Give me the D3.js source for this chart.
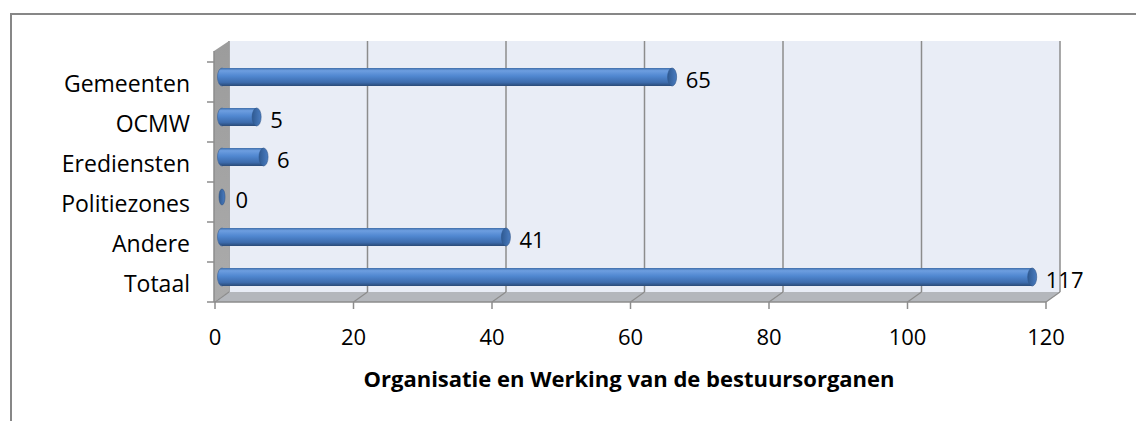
<!DOCTYPE html>
<html lang="nl">
<head>
<meta charset="utf-8">
<title>Organisatie en Werking van de bestuursorganen</title>
<script src="https://d3js.org/d3.v7.min.js"></script>
<style>
  body { margin: 0; background: #fff; }
  text { font-family: "Open Sans", sans-serif; fill: #000; }
</style>
</head>
<body>
<script>
// data
var categories = ["Gemeenten", "OCMW", "Erediensten", "Politiezones", "Andere", "Totaal"];
var values = [65, 5, 6, 0, 41, 117];
var xTicks = [0, 20, 40, 60, 80, 100, 120];
var axisTitle = "Organisatie en Werking van de bestuursorganen";

var W = 1136, H = 421;
var depthX = 14, depthY = 10;   // 3d offset of the back wall

var svg = d3.select("body").append("svg")
  .attr("width", W).attr("height", H);

// outer chart frame
svg.append("rect")
  .attr("x", 11).attr("y", 14)
  .attr("width", W + 20).attr("height", H + 20)
  .attr("fill", "none").attr("stroke", "#878787").attr("stroke-width", 2);

var x = d3.scaleLinear().domain([0, 120]).range([215, 1046]);
var y = d3.scaleBand().domain(categories).range([62, 302]);
var plotTop = 51, plotBottom = 302;

var defs = svg.append("defs");
var g1 = defs.append("linearGradient").attr("id", "barGrad")
  .attr("x1", 0).attr("y1", 0).attr("x2", 0).attr("y2", 1);
g1.append("stop").attr("offset", "0%").attr("stop-color", "#3f6ea9");
g1.append("stop").attr("offset", "15%").attr("stop-color", "#6d9ee0");
g1.append("stop").attr("offset", "45%").attr("stop-color", "#5087d0");
g1.append("stop").attr("offset", "80%").attr("stop-color", "#3d6cad");
g1.append("stop").attr("offset", "100%").attr("stop-color", "#2a4a77");

var g2 = defs.append("linearGradient").attr("id", "capGrad")
  .attr("x1", 0).attr("y1", 0).attr("x2", 1).attr("y2", 0);
g2.append("stop").attr("offset", "0%").attr("stop-color", "#2f5a92");
g2.append("stop").attr("offset", "100%").attr("stop-color", "#4a7cc0");

var g3 = defs.append("linearGradient").attr("id", "wallGrad")
  .attr("x1", 0).attr("y1", 0).attr("x2", 0).attr("y2", 1);
g3.append("stop").attr("offset", "0%").attr("stop-color", "#9c9c9c");
g3.append("stop").attr("offset", "100%").attr("stop-color", "#ababab");

// back wall
svg.append("rect")
  .attr("x", x(0) + depthX).attr("y", plotTop - depthY)
  .attr("width", x(120) - x(0)).attr("height", plotBottom - plotTop)
  .attr("fill", "#e9edf6");

// vertical gridlines on the back wall
svg.selectAll(".grid").data(xTicks).enter().append("line")
  .attr("x1", d => x(d) + depthX).attr("x2", d => x(d) + depthX)
  .attr("y1", plotTop - depthY).attr("y2", plotBottom - depthY)
  .attr("stroke", "#8c8c8c").attr("stroke-width", 1.5);

// left side wall
svg.append("polygon")
  .attr("points", [
    [x(0) - 1, plotTop], [x(0) + depthX, plotTop - depthY],
    [x(0) + depthX, plotBottom - depthY], [x(0) - 1, plotBottom]
  ].map(p => p.join(",")).join(" "))
  .attr("fill", "url(#wallGrad)");

// floor
svg.append("polygon")
  .attr("points", [
    [x(0), plotBottom], [x(120), plotBottom],
    [x(120) + depthX, plotBottom - depthY], [x(0) + depthX, plotBottom - depthY]
  ].map(p => p.join(",")).join(" "))
  .attr("fill", "#b4b7bc");

// floor gridlines
svg.selectAll(".floorgrid").data(xTicks).enter().append("line")
  .attr("x1", d => x(d)).attr("y1", plotBottom)
  .attr("x2", d => x(d) + depthX).attr("y2", plotBottom - depthY)
  .attr("stroke", "#8c8c8c").attr("stroke-width", 1.2);

// axes
svg.append("line")
  .attr("x1", x(0) - 1).attr("x2", x(0) - 1)
  .attr("y1", plotTop).attr("y2", plotBottom)
  .attr("stroke", "#8c8c8c").attr("stroke-width", 1.5);
svg.append("line")
  .attr("x1", x(0) - 1).attr("x2", x(120))
  .attr("y1", plotBottom).attr("y2", plotBottom)
  .attr("stroke", "#8c8c8c").attr("stroke-width", 1.5);

var yTickPos = categories.map(c => y(c)).concat([y.range()[1]]);
svg.selectAll(".ytick").data(yTickPos).enter().append("line")
  .attr("x1", x(0) - 8).attr("x2", x(0) - 1)
  .attr("y1", d => d).attr("y2", d => d)
  .attr("stroke", "#8c8c8c").attr("stroke-width", 1.5);

svg.selectAll(".xtick").data(xTicks).enter().append("line")
  .attr("x1", d => x(d)).attr("x2", d => x(d))
  .attr("y1", plotBottom).attr("y2", plotBottom + 7)
  .attr("stroke", "#8c8c8c").attr("stroke-width", 1.5);

svg.selectAll(".xlabel").data(xTicks).enter().append("text")
  .attr("x", d => x(d)).attr("y", 336)
  .attr("text-anchor", "middle").attr("dominant-baseline", "central")
  .attr("font-size", 22).text(d => d);

svg.selectAll(".ylabel").data(categories).enter().append("text")
  .attr("x", 190).attr("y", d => y(d) + y.bandwidth() / 2 + 1)
  .attr("text-anchor", "end").attr("dominant-baseline", "central")
  .attr("font-size", 23).text(d => d);

// cylinder bars
var barH = 18, rx = 4.5;
var rows = categories.map((c, i) => ({ cat: c, val: values[i] }));
var bars = svg.selectAll(".bar").data(rows).enter().append("g")
  .attr("transform", d => "translate(0," + (y(d.cat) + y.bandwidth() / 2 - depthY / 2) + ")");

bars.filter(d => d.val > 0).append("ellipse")
  .attr("cx", x(0) + depthX / 2).attr("cy", 0)
  .attr("rx", rx).attr("ry", barH / 2)
  .attr("fill", "url(#barGrad)").attr("stroke", "#36609a").attr("stroke-width", 0.6);
bars.filter(d => d.val > 0).append("rect")
  .attr("x", x(0) + depthX / 2).attr("y", -barH / 2)
  .attr("width", d => x(d.val) - x(0)).attr("height", barH)
  .attr("fill", "url(#barGrad)");
bars.append("ellipse")
  .attr("cx", d => x(d.val) + depthX / 2).attr("cy", 0)
  .attr("rx", d => d.val > 0 ? rx : 3).attr("ry", d => d.val > 0 ? barH / 2 : 8)
  .attr("fill", "url(#capGrad)").attr("stroke", "#2f568a").attr("stroke-width", 0.6);

bars.append("text")
  .attr("x", d => x(d.val) + depthX / 2 + rx + 9).attr("y", 2)
  .attr("dominant-baseline", "central")
  .attr("font-size", 22).text(d => d.val);

// axis title
svg.append("text")
  .attr("x", 629).attr("y", 378)
  .attr("text-anchor", "middle").attr("dominant-baseline", "central")
  .attr("font-size", 22).attr("font-weight", "bold")
  .text(axisTitle);
</script>
</body>
</html>
